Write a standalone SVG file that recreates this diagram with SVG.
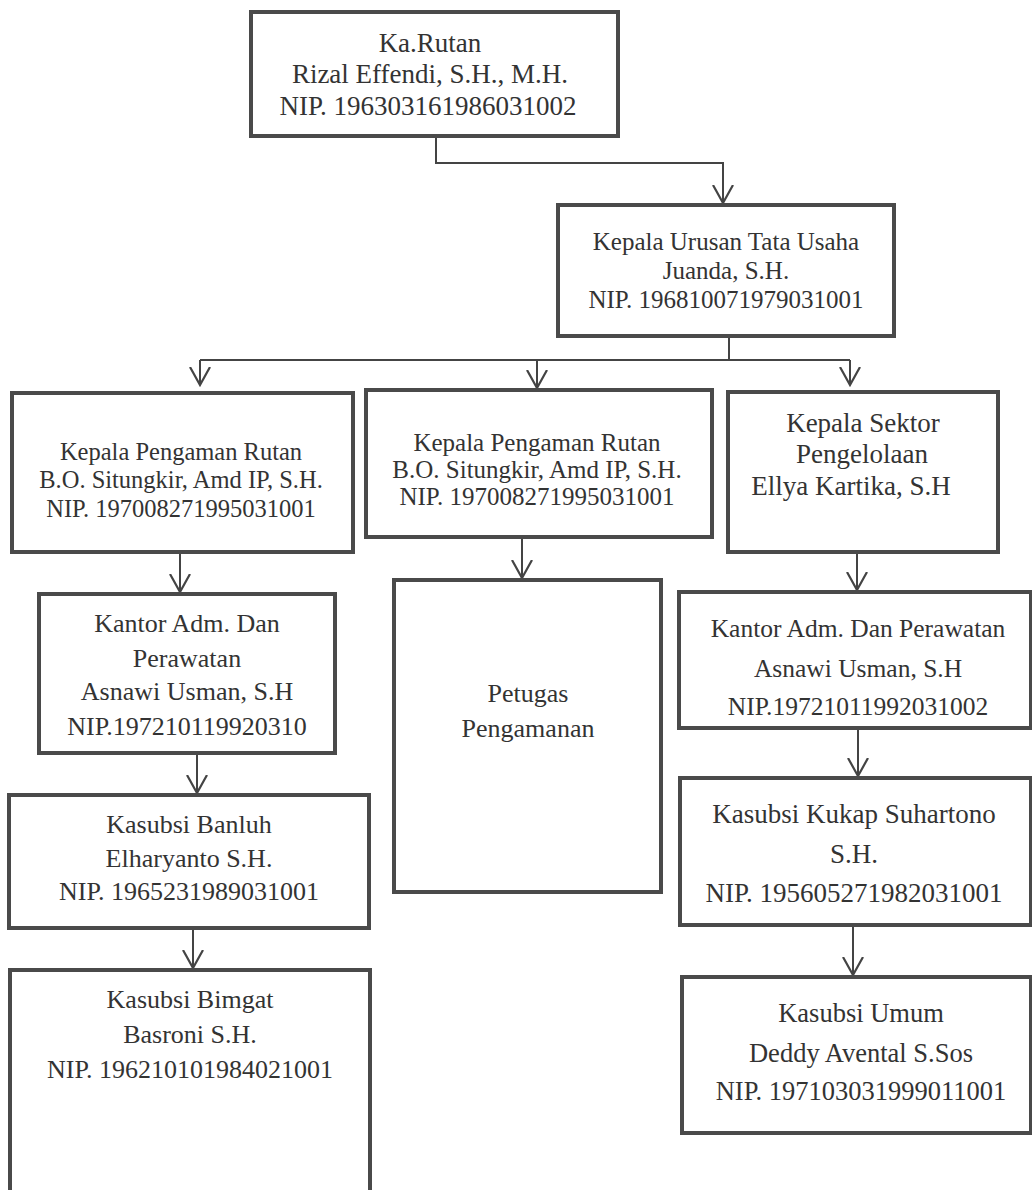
<svg xmlns="http://www.w3.org/2000/svg" width="1032" height="1190" viewBox="0 0 1032 1190">
<defs>
<marker id="arr" viewBox="0 0 20 22" refX="18" refY="11" markerWidth="20" markerHeight="22" markerUnits="userSpaceOnUse" orient="auto">
<path d="M0,1 L18,11 L0,21" fill="none" stroke="#444" stroke-width="2.2"/>
</marker>
</defs>
<style>
.box{fill:#fff;stroke:#4a4a4a;stroke-width:4}
.t{font-family:"Liberation Serif","Times New Roman",serif;fill:#333;text-anchor:middle}
.c{fill:none;stroke:#444;stroke-width:2}
</style>
<rect width="1032" height="1190" fill="#fff"/>
<g id="connectors">
<path class="c" d="M436,136 V163 H723 V203" marker-end="url(#arr)"/>
<path class="c" d="M729,336 V360"/>
<path class="c" d="M200,360 H850"/>
<path class="c" d="M200,360 V385" marker-end="url(#arr)"/>
<path class="c" d="M537,360 V388" marker-end="url(#arr)"/>
<path class="c" d="M850,360 V385" marker-end="url(#arr)"/>
<path class="c" d="M180,552 V592" marker-end="url(#arr)"/>
<path class="c" d="M522,537 V578" marker-end="url(#arr)"/>
<path class="c" d="M857,552 V590" marker-end="url(#arr)"/>
<path class="c" d="M197,753 V793" marker-end="url(#arr)"/>
<path class="c" d="M858,728 V776" marker-end="url(#arr)"/>
<path class="c" d="M193,928 V968" marker-end="url(#arr)"/>
<path class="c" d="M853,925 V975" marker-end="url(#arr)"/>
</g>
<g id="ka-rutan">
<rect class="box" x="251" y="12" width="367" height="124"/>
<text class="t" font-size="27"><tspan x="430" y="52">Ka.Rutan</tspan><tspan x="430" y="83">Rizal Effendi, S.H., M.H.</tspan><tspan x="428" y="115">NIP. 196303161986031002</tspan></text>
</g>
<g id="kaur-tu">
<rect class="box" x="558" y="205" width="336" height="131"/>
<text class="t" font-size="25"><tspan x="726" y="250">Kepala Urusan Tata Usaha</tspan><tspan x="726" y="279">Juanda, S.H.</tspan><tspan x="726" y="308">NIP. 196810071979031001</tspan></text>
</g>
<g id="kpr-1">
<rect class="box" x="12" y="393" width="341" height="159"/>
<text class="t" font-size="24.5"><tspan x="181" y="460">Kepala Pengaman Rutan</tspan><tspan x="181" y="488">B.O. Situngkir, Amd IP, S.H.</tspan><tspan x="181" y="517">NIP. 197008271995031001</tspan></text>
</g>
<g id="kpr-2">
<rect class="box" x="366" y="390" width="346" height="147"/>
<text class="t" font-size="25"><tspan x="537" y="451">Kepala Pengaman Rutan</tspan><tspan x="537" y="478">B.O. Situngkir, Amd IP, S.H.</tspan><tspan x="537" y="505">NIP. 197008271995031001</tspan></text>
</g>
<g id="kepala-sektor">
<rect class="box" x="728" y="392" width="270" height="160"/>
<text class="t" font-size="27"><tspan x="863" y="432">Kepala Sektor</tspan><tspan x="862" y="463">Pengelolaan</tspan><tspan x="851" y="495">Ellya Kartika, S.H</tspan></text>
</g>
<g id="kantor-adm-1">
<rect class="box" x="39" y="594" width="296" height="159"/>
<text class="t" font-size="26"><tspan x="187" y="632">Kantor Adm. Dan</tspan><tspan x="187" y="667">Perawatan</tspan><tspan x="187" y="700">Asnawi Usman, S.H</tspan><tspan x="187" y="735">NIP.197210119920310</tspan></text>
</g>
<g id="petugas">
<rect class="box" x="394" y="580" width="267" height="312"/>
<text class="t" font-size="26"><tspan x="528" y="702">Petugas</tspan><tspan x="528" y="737">Pengamanan</tspan></text>
</g>
<g id="kantor-adm-2">
<rect class="box" x="679" y="592" width="352" height="136"/>
<text class="t" font-size="25.5"><tspan x="858" y="637">Kantor Adm. Dan Perawatan</tspan><tspan x="858" y="677">Asnawi Usman, S.H</tspan><tspan x="858" y="715">NIP.19721011992031002</tspan></text>
</g>
<g id="banluh">
<rect class="box" x="9" y="795" width="360" height="133"/>
<text class="t" font-size="26"><tspan x="189" y="833">Kasubsi Banluh</tspan><tspan x="189" y="867">Elharyanto S.H.</tspan><tspan x="189" y="900">NIP. 1965231989031001</tspan></text>
</g>
<g id="kukap">
<rect class="box" x="680" y="778" width="351" height="147"/>
<text class="t" font-size="27"><tspan x="854" y="823">Kasubsi Kukap Suhartono</tspan><tspan x="854" y="863">S.H.</tspan><tspan x="854" y="902">NIP. 195605271982031001</tspan></text>
</g>
<g id="bimgat">
<rect class="box" x="10" y="970" width="360" height="240"/>
<text class="t" font-size="26"><tspan x="190" y="1008">Kasubsi Bimgat</tspan><tspan x="190" y="1043">Basroni S.H.</tspan><tspan x="190" y="1078">NIP. 196210101984021001</tspan></text>
</g>
<g id="umum">
<rect class="box" x="682" y="977" width="349" height="156"/>
<text class="t" font-size="26.5"><tspan x="861" y="1022">Kasubsi Umum</tspan><tspan x="861" y="1062">Deddy Avental S.Sos</tspan><tspan x="861" y="1100">NIP. 197103031999011001</tspan></text>
</g>
</svg>
